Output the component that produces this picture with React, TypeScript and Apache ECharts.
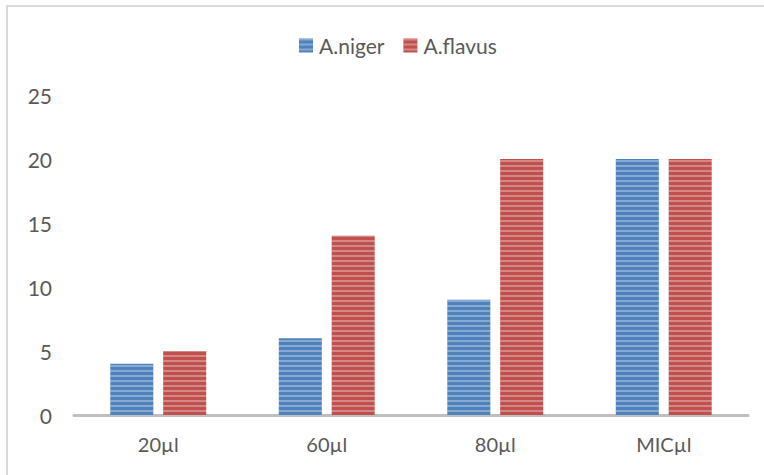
import React, { useEffect, useRef } from "react";
import * as echarts from "echarts";

const categories = ["20µl", "60µl", "80µl", "MICµl"];
const nigerValues = [4, 6, 9, 20];
const flavusValues = [5, 14, 20, 20];
const yTicks = [0, 5, 10, 15, 20, 25];

const FONT = "Lato, 'Open Sans', sans-serif";
const TEXT = "#595959";

export default function App() {
  const ref = useRef<HTMLDivElement>(null);
  useEffect(() => {
    if (!ref.current) return;
    const chart = echarts.init(ref.current, undefined, { renderer: "svg" });
    const decal = (c: string) => ({
      symbol: "rect",
      symbolSize: 1,
      dashArrayX: [10, 0],
      dashArrayY: [2, 2.5],
      rotation: 0,
      color: c,
    });
    chart.setOption({
      animation: false,
      backgroundColor: "#ffffff",
      textStyle: { fontFamily: FONT },
      graphic: [
        {
          type: "rect",
          shape: { x: 7, y: 6, width: 800, height: 500 },
          style: { fill: "none", stroke: "#d9d9d9", lineWidth: 2 },
          silent: true,
        },
      ],
      legend: {
        top: 30,
        left: 294,
        itemWidth: 14,
        itemHeight: 14,
        itemGap: 19,
        icon: "rect",
        textStyle: { color: TEXT, fontSize: 21, fontFamily: FONT, padding: [0, 0, 0, 1] },
        data: ["A.niger", "A.flavus"],
      },
      grid: { left: 74, right: 16, top: 95, bottom: 60, containLabel: false },
      xAxis: {
        type: "category",
        data: categories,
        axisLine: { lineStyle: { color: "#bfbfbf", width: 3 } },
        axisTick: { show: false },
        axisLabel: { color: TEXT, fontSize: 20, fontFamily: FONT, margin: 19 },
      },
      yAxis: {
        type: "value",
        min: yTicks[0],
        max: yTicks[yTicks.length - 1],
        interval: 5,
        axisLine: { show: false },
        axisTick: { show: false },
        splitLine: { show: false },
        axisLabel: { color: TEXT, fontSize: 21, fontFamily: FONT, margin: 22 },
      },
      series: [
        {
          name: "A.niger",
          type: "bar",
          data: nigerValues,
          barWidth: 43,
          barGap: "23%",
          itemStyle: { color: "#4f81bd", decal: decal("rgba(255,255,255,0.32)") },
        },
        {
          name: "A.flavus",
          type: "bar",
          data: flavusValues,
          barWidth: 43,
          barGap: "23%",
          itemStyle: { color: "#c0504d", decal: decal("rgba(255,255,255,0.32)") },
        },
      ],
    });
    return () => chart.dispose();
  }, []);
  return (
    <div
      ref={ref}
      style={{ position: "fixed", left: 0, top: 0, width: 764, height: 475 }}
    />
  );
}
